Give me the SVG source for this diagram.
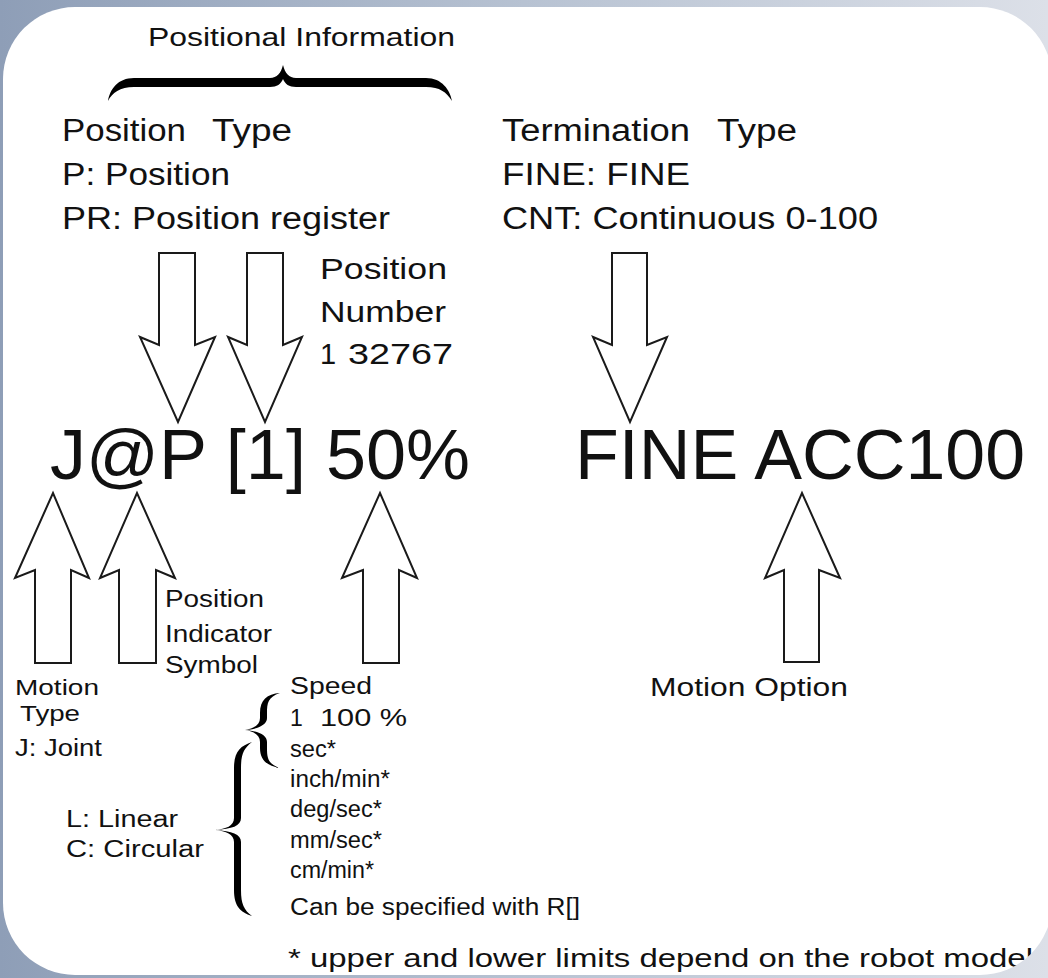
<svg xmlns="http://www.w3.org/2000/svg" width="1048" height="978" viewBox="0 0 1048 978">
  <defs>
    <linearGradient id="bg" x1="0" y1="0" x2="1" y2="0">
      <stop offset="0" stop-color="#8e9eb7"/>
      <stop offset="0.5" stop-color="#b7c2d2"/>
      <stop offset="1" stop-color="#dce0e8"/>
    </linearGradient>
    <clipPath id="card">
      <rect x="3" y="7" width="1049" height="968" rx="72" ry="72"/>
    </clipPath>
    <style>
      text { font-family: "Liberation Sans", Arial, Helvetica, sans-serif; fill: #111; }
      .t26 { font-size: 26px; }
      .t31 { font-size: 31px; }
      .t29 { font-size: 29px; }
      .big { font-size: 70px; }
      .s23 { font-size: 23px; }
      .s22 { font-size: 22px; }
      .s26 { font-size: 26px; }
      .arrow { fill: #fff; stroke: #1a1a1a; stroke-width: 2; stroke-linejoin: miter; }
      .brace { fill: #000; }
    </style>
  </defs>

  <rect x="0" y="0" width="1048" height="978" fill="url(#bg)"/>
  <rect x="3" y="7" width="1049" height="968" rx="72" ry="72" fill="#fff"/>

  <g id="connectors">
    <polygon id="arrow-postype" class="arrow" points="159,253 195,253 195,345 215,337 178,422 140,337 159,345"/>
    <polygon id="arrow-posnum" class="arrow" points="247,253 283,253 283,345 302,337 265,422 228,337 247,345"/>
    <polygon id="arrow-term" class="arrow" points="612,253 647,253 647,345 667,337 630,422 593,337 612,345"/>
    <polygon id="arrow-motion" class="arrow" points="35,663 71,663 71,570 89,578 53,493 15,578 35,570"/>
    <polygon id="arrow-indicator" class="arrow" points="119,663 156,663 156,570 175,578 137,493 100,578 119,570"/>
    <polygon id="arrow-speed" class="arrow" points="363,663 399,663 399,570 417,578 380,493 342,578 363,570"/>
    <polygon id="arrow-option" class="arrow" points="784,662 819,662 819,570 840,578 802,493 765,578 784,570"/>
  </g>

  <g id="positional-information">
    <text class="t26" x="148" y="46" textLength="307" lengthAdjust="spacingAndGlyphs">Positional Information</text>
    <path class="brace" d="M108,101 C110,89 118,78 134,78 L270,78 C277,78 281,73 283,65 C285,73 289,78 296,78 L426,78 C442,78 450,90 452,101 C446,92 440,87 426,87 L296,87 C289,87 285,84 283,79 C281,84 277,87 270,87 L134,87 C120,87 112,93 108,101 Z"/>
  </g>

  <g id="position-type">
    <text class="t31" x="62" y="141" textLength="124" lengthAdjust="spacingAndGlyphs">Position</text>
    <text class="t31" x="212" y="141" textLength="80" lengthAdjust="spacingAndGlyphs">Type</text>
    <text class="t31" x="62" y="185" textLength="168" lengthAdjust="spacingAndGlyphs">P: Position</text>
    <text class="t31" x="62" y="229" textLength="328" lengthAdjust="spacingAndGlyphs">PR: Position register</text>
  </g>

  <g id="termination-type">
    <text class="t31" x="502" y="141" textLength="188" lengthAdjust="spacingAndGlyphs">Termination</text>
    <text class="t31" x="717" y="141" textLength="80" lengthAdjust="spacingAndGlyphs">Type</text>
    <text class="t31" x="502" y="185" textLength="188" lengthAdjust="spacingAndGlyphs">FINE: FINE</text>
    <text class="t31" x="502" y="229" textLength="376" lengthAdjust="spacingAndGlyphs">CNT: Continuous 0-100</text>
  </g>

  <g id="position-number">
    <text class="t29" x="320" y="279" textLength="127" lengthAdjust="spacingAndGlyphs">Position</text>
    <text class="t29" x="320" y="322" textLength="126" lengthAdjust="spacingAndGlyphs">Number</text>
    <text class="t29" x="320" y="364">1</text>
    <text class="t29" x="348" y="364" textLength="105" lengthAdjust="spacingAndGlyphs">32767</text>
  </g>

  <g id="instruction">
    <text class="big" x="50" y="479" textLength="420" lengthAdjust="spacingAndGlyphs">J@P [1] 50%</text>
    <text class="big" x="575" y="479" textLength="450" lengthAdjust="spacingAndGlyphs">FINE ACC100</text>
  </g>

  <g id="indicator-symbol">
    <text class="s23" x="165" y="607" textLength="99" lengthAdjust="spacingAndGlyphs">Position</text>
    <text class="s23" x="165" y="642" textLength="107" lengthAdjust="spacingAndGlyphs">Indicator</text>
    <text class="s23" x="165" y="673" textLength="93" lengthAdjust="spacingAndGlyphs">Symbol</text>
  </g>

  <g id="motion-type">
    <text class="s22" x="15" y="695" textLength="84" lengthAdjust="spacingAndGlyphs">Motion</text>
    <text class="s22" x="20" y="721" textLength="60" lengthAdjust="spacingAndGlyphs">Type</text>
    <text class="s23" x="15" y="756" textLength="87" lengthAdjust="spacingAndGlyphs">J: Joint</text>
    <text class="s23" x="66" y="827" textLength="112" lengthAdjust="spacingAndGlyphs">L: Linear</text>
    <text class="s23" x="66" y="857" textLength="138" lengthAdjust="spacingAndGlyphs">C: Circular</text>
  </g>

  <g id="speed">
    <path class="brace" d="M280,693 C267,694 260,700 260,713 L260,718 C260,725 253,729 245,730 C253,731 260,735 260,742 L260,748 C260,760 267,766 280,768 C268,764 267,758 267,748 L267,742 C267,735 258,731 245,730 C258,729 267,725 267,718 L267,713 C267,703 268,697 280,693 Z"/>
    <path class="brace" d="M252,742 C240,746 234,752 234,768 L234,818 C234,826 226,829 215,830 C226,831 234,834 234,842 L234,890 C234,906 240,912 252,916 C244,910 241,904 241,890 L241,842 C241,834 232,831 215,830 C232,829 241,826 241,818 L241,768 C241,754 244,748 252,742 Z"/>
    <text class="s23" x="290" y="694" textLength="82" lengthAdjust="spacingAndGlyphs">Speed</text>
    <text class="s23" x="290" y="726">1</text>
    <text class="s23" x="320" y="726" textLength="87" lengthAdjust="spacingAndGlyphs">100 %</text>
    <text class="s23" x="290" y="757" textLength="46" lengthAdjust="spacingAndGlyphs">sec*</text>
    <text class="s23" x="290" y="787" textLength="100" lengthAdjust="spacingAndGlyphs">inch/min*</text>
    <text class="s23" x="290" y="817" textLength="92" lengthAdjust="spacingAndGlyphs">deg/sec*</text>
    <text class="s23" x="290" y="848" textLength="92" lengthAdjust="spacingAndGlyphs">mm/sec*</text>
    <text class="s23" x="290" y="878" textLength="84" lengthAdjust="spacingAndGlyphs">cm/min*</text>
    <text class="s23" x="290" y="915" textLength="290" lengthAdjust="spacingAndGlyphs">Can be specified with R[]</text>
  </g>

  <g id="motion-option">
    <text class="s26" x="650" y="696" textLength="198" lengthAdjust="spacingAndGlyphs">Motion Option</text>
  </g>

  <g id="footnote" clip-path="url(#card)">
    <text class="s26" x="288" y="967" textLength="745" lengthAdjust="spacingAndGlyphs">* upper and lower limits depend on the robot model</text>
  </g>
</svg>
